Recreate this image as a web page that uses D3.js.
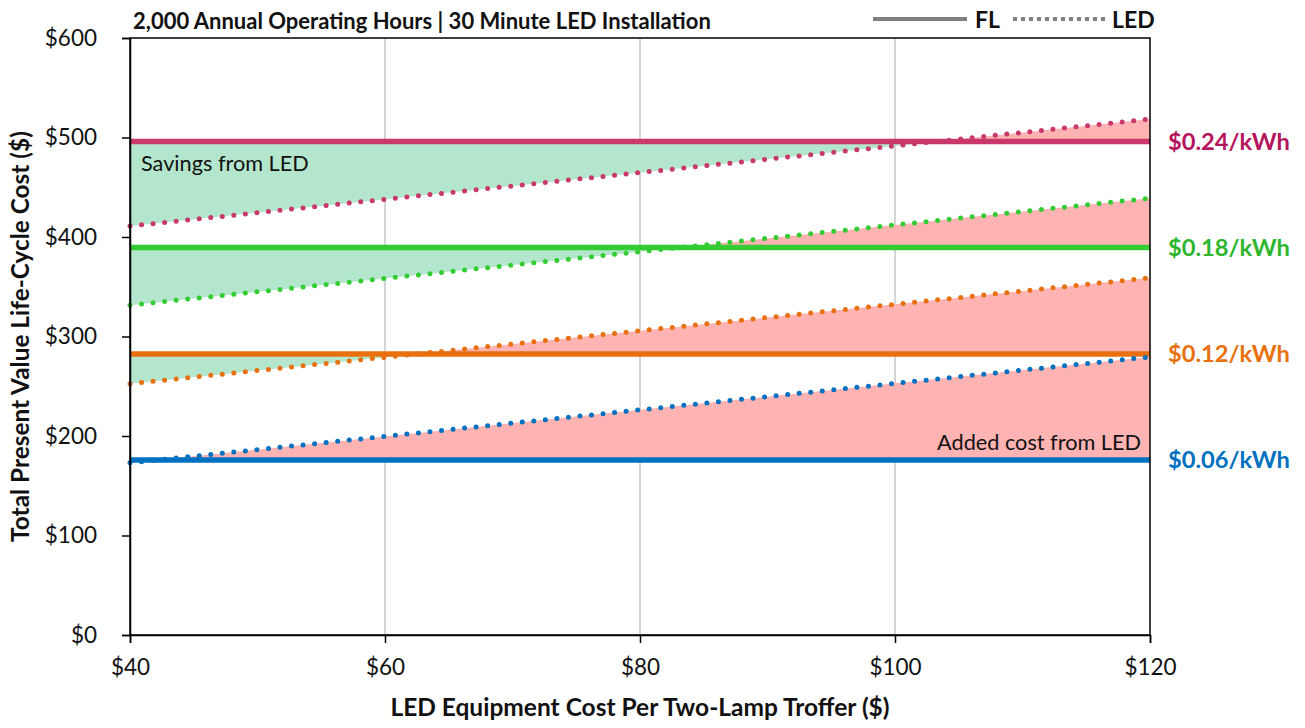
<!DOCTYPE html>
<html><head><meta charset="utf-8">
<script src="https://cdn.jsdelivr.net/npm/d3@7"></script>
<style>body{margin:0;background:#fff;} text{font-family:Lato,"Open Sans",sans-serif;}</style>
</head><body>
<svg id="c" width="1305" height="728"></svg>
<script>
const rateLabels = ["$0.24/kWh","$0.18/kWh","$0.12/kWh","$0.06/kWh"];
const lineColors = ["#C9386A","#33CC33","#E8700E","#0070C0"];
const labelColors = ["#B5155C","#2DB52D","#E8700E","#0070C0"];
const ledCost = [40, 120];
const flValues = [496, 389.5, 282.5, 176];
const ledValues = [[411, 518.5],[331.5, 439],[252.5, 359],[173, 279.5]];
const xTicks = [40,60,80,100,120];
const yTicks = [0,100,200,300,400,500,600];
const title = "2,000 Annual Operating Hours | 30 Minute LED Installation";
const xTitle = "LED Equipment Cost Per Two-Lamp Troffer ($)";
const yTitle = "Total Present Value Life-Cycle Cost ($)";

const svg = d3.select("#c");
const L=130,R=1150,T=38,B=635;
const x = d3.scaleLinear().domain([40,120]).range([L,R]);
const y = d3.scaleLinear().domain([0,600]).range([B,T]);

// gridlines
svg.append("g").selectAll("line").data(xTicks.filter(d=>d>40&&d<120)).join("line")
  .attr("x1",d=>x(d)).attr("x2",d=>x(d)).attr("y1",T).attr("y2",B)
  .attr("stroke","#BFBFBF").attr("stroke-width",1.3);

const defs = svg.append("defs");
// fills
flValues.forEach((fl,i)=>{
  const pts = ledCost.map((c,j)=>({c, led:ledValues[i][j]}));
  const area = d3.area().x(d=>x(d.c)).y0(y(fl)).y1(d=>y(d.led));
  defs.append("clipPath").attr("id","g"+i).append("rect")
    .attr("x",L).attr("width",R-L).attr("y",y(fl)).attr("height",B-y(fl));
  defs.append("clipPath").attr("id","r"+i).append("rect")
    .attr("x",L).attr("width",R-L).attr("y",T).attr("height",y(fl)-T);
  svg.append("path").datum(pts).attr("d",area).attr("fill","#B3E6CC").attr("clip-path",`url(#g${i})`);
  svg.append("path").datum(pts).attr("d",area).attr("fill","#FFB3B3").attr("clip-path",`url(#r${i})`);
});

// annotations
svg.append("text").attr("x",141).attr("y",171).attr("font-size",21.7).attr("fill","#111").text("Savings from LED");
svg.append("text").attr("x",1141).attr("y",450).attr("font-size",21.7).attr("fill","#111").attr("text-anchor","end").text("Added cost from LED");

// lines
flValues.forEach((fl,i)=>{
  svg.append("line").attr("x1",x(40)).attr("x2",x(120)).attr("y1",y(fl)).attr("y2",y(fl))
    .attr("stroke",lineColors[i]).attr("stroke-width",5.5);
  const pts = ledCost.map((c,j)=>[c, ledValues[i][j]]);
  svg.append("path").datum(pts).attr("d",d3.line().x(d=>x(d[0])).y(d=>y(d[1])))
    .attr("fill","none").attr("stroke",lineColors[i]).attr("stroke-width",5)
    .attr("stroke-linecap","round").attr("stroke-dasharray","0 11.6");
  svg.append("text").attr("x",1168).attr("y",y(fl)).attr("dy","0.36em")
    .attr("font-size",23.7).attr("font-weight","bold").attr("fill",labelColors[i]).text(rateLabels[i]);
});

// frame
svg.append("rect").attr("x",L).attr("y",T).attr("width",R-L).attr("height",B-T)
  .attr("fill","none").attr("stroke","#000").attr("stroke-width",1.5);

// axes
const xa = svg.append("g").attr("transform",`translate(0,${B})`)
  .call(d3.axisBottom(x).tickValues(xTicks).tickFormat(d=>"$"+d).tickSize(8).tickPadding(16));
const ya = svg.append("g").attr("transform",`translate(${L},0)`)
  .call(d3.axisLeft(y).tickValues(yTicks).tickFormat(d=>"$"+d).tickSize(8).tickPadding(25));
[xa,ya].forEach(a=>{
  a.select(".domain").attr("stroke","#000").attr("stroke-width",1.5);
  a.selectAll(".tick line").attr("stroke","#000").attr("stroke-width",1.5);
  a.selectAll("text").attr("font-size",22.5).attr("fill","#111").style("font-family","Lato,sans-serif");
});

// titles
svg.append("text").attr("x",133).attr("y",29).attr("font-size",22).attr("font-weight","bold").attr("fill","#111").text(title);
svg.append("text").attr("x",(L+R)/2).attr("y",716).attr("text-anchor","middle").attr("font-size",24.5).attr("font-weight","bold").attr("fill","#111").text(xTitle);
svg.append("text").attr("transform",`translate(29,${(T+B)/2}) rotate(-90)`).attr("text-anchor","middle").attr("font-size",24.4).attr("font-weight","bold").attr("fill","#111").text(yTitle);

// legend
svg.append("line").attr("x1",873).attr("x2",967).attr("y1",19).attr("y2",19).attr("stroke","#7F7F7F").attr("stroke-width",4);
svg.append("text").attr("x",975).attr("y",28).attr("font-size",23).attr("font-weight","bold").attr("fill","#111").text("FL");
svg.append("line").attr("x1",1013).attr("x2",1108).attr("y1",19).attr("y2",19).attr("stroke","#7F7F7F").attr("stroke-width",4).attr("stroke-dasharray","4 4");
svg.append("text").attr("x",1112).attr("y",28).attr("font-size",23).attr("font-weight","bold").attr("fill","#111").text("LED");
</script>
</body></html>
